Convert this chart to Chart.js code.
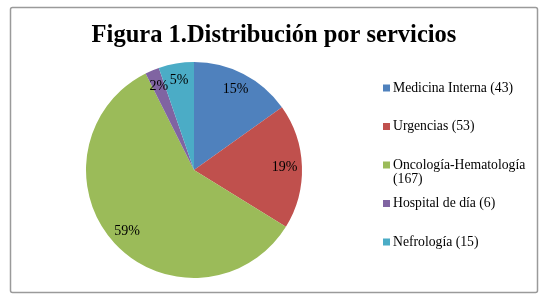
<!DOCTYPE html>
<html>
<head>
<meta charset="utf-8">
<script src="https://cdn.jsdelivr.net/npm/chart.js@4/dist/chart.umd.min.js"></script>
<style>
  html, body { margin: 0; padding: 0; background: #fff; }
  #wrap { width: 550px; height: 300px; }
</style>
</head>
<body>
<div id="wrap"><canvas id="chart"></canvas></div>
<script>
const titleText = "Figura 1.Distribución por servicios";
const services = ["Medicina Interna", "Urgencias", "Oncología-Hematología", "Hospital de día", "Nefrología"];
const patients = [43, 53, 167, 6, 15];
const sliceColors = ["#4F81BD", "#C0504D", "#9BBB59", "#8064A2", "#4BACC6"];

const serif = "'Liberation Serif', 'Times New Roman', serif";

// frame, title, % labels and the legend on the right
const decor = {
  id: "decor",
  beforeDraw(chart) {
    const ctx = chart.ctx;
    ctx.save();
    ctx.strokeStyle = "#9a9a9a";
    ctx.lineWidth = 1.5;
    ctx.beginPath();
    ctx.roundRect(10.5, 7.5, 527, 285, 2);
    ctx.stroke();
    ctx.restore();
  },
  afterDraw(chart) {
    const ctx = chart.ctx;
    const ds = chart.data.datasets[0];
    const total = ds.data.reduce((a, b) => a + b, 0);
    ctx.save();

    // title
    ctx.fillStyle = "#000";
    ctx.font = "bold 24.5px " + serif;
    ctx.textAlign = "center";
    ctx.textBaseline = "alphabetic";
    ctx.fillText(titleText, 274, 42);

    // percent labels
    ctx.textBaseline = "middle";
    ctx.font = "14px " + serif;
    chart.getDatasetMeta(0).data.forEach((arc, i) => {
      const a = (arc.startAngle + arc.endAngle) / 2;
      const r = arc.outerRadius * 0.84;
      const pct = Math.round(ds.data[i] / total * 100) + "%";
      ctx.fillText(pct, arc.x + Math.cos(a) * r, arc.y + Math.sin(a) * r);
    });

    // legend
    ctx.font = "13.7px " + serif;
    ctx.textAlign = "left";
    const maxW = 140;
    chart.data.labels.forEach((lab, i) => {
      const words = (lab + " (" + ds.data[i] + ")").split(" ");
      const lines = [];
      let cur = "";
      words.forEach(w => {
        const test = cur ? cur + " " + w : w;
        if (cur && ctx.measureText(test).width > maxW) {
          lines.push(cur);
          cur = w;
        } else {
          cur = test;
        }
      });
      lines.push(cur);
      const y = 88 + i * 38.5;
      ctx.fillStyle = ds.backgroundColor[i];
      ctx.fillRect(383, y - 3.5, 7, 7);
      ctx.fillStyle = "#000";
      lines.forEach((ln, k) => ctx.fillText(ln, 393, y + k * 14));
    });
    ctx.restore();
  }
};

new Chart(document.getElementById("chart"), {
  type: "pie",
  data: {
    labels: services,
    datasets: [{
      data: patients,
      backgroundColor: sliceColors,
      borderWidth: 0
    }]
  },
  options: {
    responsive: true,
    maintainAspectRatio: false,
    animation: false,
    events: [],
    layout: { padding: { left: 86, top: 62, right: 248, bottom: 22 } },
    plugins: {
      legend: { display: false },
      title: { display: false },
      tooltip: { enabled: false }
    }
  },
  plugins: [decor]
});
</script>
</body>
</html>
